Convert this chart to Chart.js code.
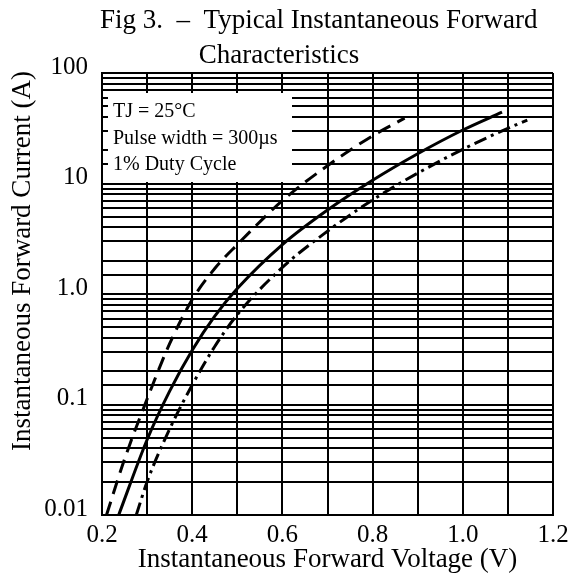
<!DOCTYPE html>
<html>
<head>
<meta charset="utf-8">
<script src="https://cdn.jsdelivr.net/npm/chart.js@4/dist/chart.umd.min.js"></script>
<style>
  html, body { margin: 0; padding: 0; background: #fff; }
  #wrap { width: 569px; height: 576px; }
</style>
</head>
<body>
<div id="wrap"><canvas id="chart"></canvas></div>
<script>
// forward voltage (V) / forward current (A)
const typV = [0.237, 0.3, 0.35, 0.4, 0.45, 0.5, 0.6, 0.7, 0.8, 0.9, 1.0, 1.087];
const typI = [0.01, 0.048, 0.132, 0.31, 0.63, 1.12, 2.8, 5.75, 10.7, 18.6, 30.5, 44.2];
const lowV = [0.21, 0.25, 0.3, 0.35, 0.4, 0.45, 0.5, 0.6, 0.7, 0.8, 0.871];
const lowI = [0.01, 0.032, 0.112, 0.355, 0.89, 1.7, 2.8, 7.0, 14.5, 27, 39];
const highV = [0.276, 0.3, 0.35, 0.4, 0.45, 0.5, 0.6, 0.7, 0.8, 0.9, 1.0, 1.1, 1.143];
const highI = [0.01, 0.02, 0.06, 0.15, 0.335, 0.65, 1.74, 3.7, 7.1, 12.4, 20.4, 31.6, 37.4];

const xTickLabels = ['0.2', '0.4', '0.6', '0.8', '1.0', '1.2'];
const yTickValues = [0.01, 0.1, 1, 10, 100];
const yTickLabels = ['0.01', '0.1', '1.0', '10', '100'];

const titleLines = ['Fig 3.  \u2013  Typical Instantaneous Forward', 'Characteristics'];
const noteLines = ['TJ = 25\u00B0C', 'Pulse width = 300\u00B5s', '1% Duty Cycle'];
const xTitle = 'Instantaneous Forward Voltage (V)';
const yTitle = 'Instantaneous Forward Current (A)';

const SERIF = '"Liberation Serif", "Times New Roman", serif';

function pts(xs, ys) {
  return xs.map((x, i) => ({ x: x, y: ys[i] }));
}

const figText = {
  id: 'figText',
  beforeDatasetsDraw(chart) {
    const ctx = chart.ctx;
    const ca = chart.chartArea;
    ctx.save();
    ctx.fillStyle = '#fff';
    ctx.fillRect(ca.left + 6, ca.top + 20, 184, 89);
    ctx.fillStyle = '#000';
    ctx.font = '20px ' + SERIF;
    ctx.textAlign = 'left';
    ctx.textBaseline = 'alphabetic';
    noteLines.forEach((t, i) => ctx.fillText(t, ca.left + 11, ca.top + 44 + i * 26.5));
    ctx.restore();
  },
  afterDraw(chart) {
    const ctx = chart.ctx;
    const ca = chart.chartArea;
    ctx.save();
    ctx.fillStyle = '#000';
    ctx.font = '27px ' + SERIF;
    ctx.textBaseline = 'alphabetic';
    ctx.textAlign = 'left';
    ctx.fillText(titleLines[0], ca.left - 2, 28);
    ctx.textAlign = 'center';
    ctx.fillText(titleLines[1], 279, 63);
    // y axis title
    ctx.translate(30, 261);
    ctx.rotate(-Math.PI / 2);
    ctx.textAlign = 'center';
    ctx.fillText(yTitle, 0, 0);
    ctx.restore();
  }
};

const lineBase = {
  showLine: true,
  pointRadius: 0,
  borderColor: '#000',
  borderWidth: 3,
  borderCapStyle: 'butt',
  cubicInterpolationMode: 'monotone',
  fill: false
};

new Chart(document.getElementById('chart'), {
  type: 'scatter',
  data: {
    datasets: [
      Object.assign({ label: 'typical', data: pts(typV, typI) }, lineBase),
      Object.assign({ label: 'low', data: pts(lowV, lowI), borderDash: [14, 8] }, lineBase),
      Object.assign({ label: 'high', data: pts(highV, highI), borderDash: [13, 5, 3, 5] }, lineBase)
    ]
  },
  options: {
    responsive: true,
    maintainAspectRatio: false,
    animation: false,
    layout: { padding: { top: 73, right: 16, left: 0, bottom: 0 } },
    plugins: { legend: { display: false }, tooltip: { enabled: false } },
    scales: {
      x: {
        type: 'linear',
        min: 0.2,
        max: 1.2,
        afterFit(scale) {
          scale.height = 61;
          scale.paddingLeft = 0;
          scale.paddingRight = 0;
        },
        border: { color: '#000', width: 2 },
        grid: { color: '#000', lineWidth: 2, drawTicks: false },
        ticks: {
          stepSize: 0.1,
          autoSkip: false,
          maxRotation: 0,
          padding: 5,
          color: '#000',
          font: { family: SERIF, size: 25 },
          callback(v) {
            const k = Math.round(v * 10);
            return k % 2 === 0 ? xTickLabels[(k - 2) / 2] : '';
          }
        },
        title: {
          display: true,
          text: xTitle,
          color: '#000',
          font: { family: SERIF, size: 27 },
          padding: 0
        }
      },
      y: {
        type: 'logarithmic',
        min: 0.01,
        max: 100,
        afterFit(scale) {
          scale.width = 102;
          scale.paddingTop = 0;
          scale.paddingBottom = 0;
        },
        border: { color: '#000', width: 2 },
        grid: { color: '#000', lineWidth: 2, drawTicks: false },
        ticks: {
          autoSkip: false,
          padding: 14,
          labelOffset: -6,
          color: '#000',
          font: { family: SERIF, size: 25 },
          callback(v) {
            const i = yTickValues.findIndex(t => Math.abs(t - v) < t * 1e-6);
            return i >= 0 ? yTickLabels[i] : '';
          }
        }
      }
    }
  },
  plugins: [figText]
});
</script>
</body>
</html>
